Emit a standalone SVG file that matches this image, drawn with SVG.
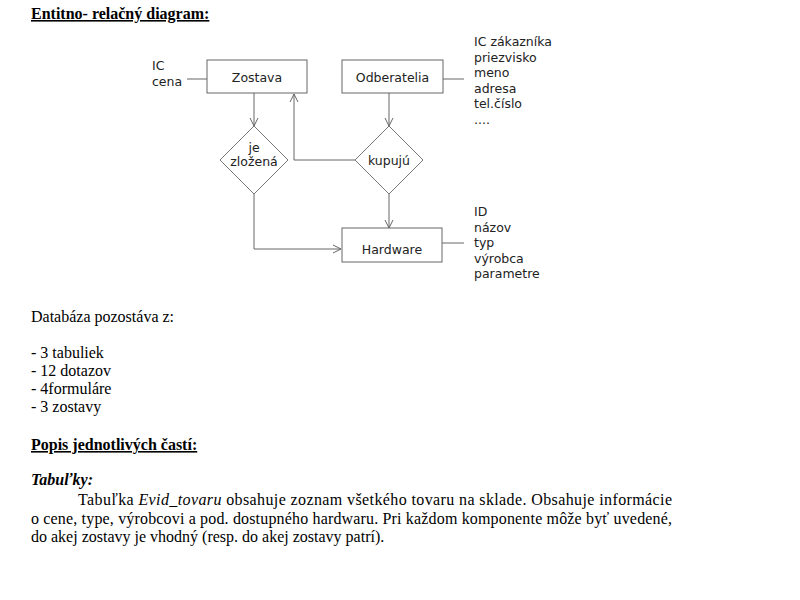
<svg xmlns="http://www.w3.org/2000/svg" width="800" height="600" viewBox="0 0 800 600">
<style>
.bg{fill:#fff}
.ent{fill:#fff;stroke:#666;stroke-width:1}
.rel{fill:#fff;stroke:#777;stroke-width:1}
.lbl{font-family:"DejaVu Sans",sans-serif;font-size:12.5px;fill:#222;text-anchor:middle}
.attr{font-family:"DejaVu Sans",sans-serif;font-size:12.5px;fill:#222}
.con{fill:none;stroke:#666;stroke-width:1}
.body{font-family:"Liberation Serif",serif;font-size:16px;fill:#000}
.hd{font-family:"Liberation Serif",serif;font-size:16px;font-weight:bold;fill:#000;text-decoration:underline}
</style>
<defs>
<marker id="arr" markerWidth="10" markerHeight="10" refX="9" refY="5" orient="auto" markerUnits="userSpaceOnUse">
<path d="M1,1 L9,5 L1,9" fill="none" stroke="#666" stroke-width="1"/>
</marker>
</defs>
<rect class="bg" x="0" y="0" width="800" height="600"/>
<text class="hd" x="31" y="19">Entitno- relačný diagram:</text>

<g id="connectors">
<line class="con" x1="187" y1="79" x2="207" y2="79"/>
<line class="con" x1="443" y1="79" x2="464" y2="79"/>
<line class="con" x1="442" y1="243" x2="464" y2="243"/>
<line class="con" x1="254" y1="93" x2="254" y2="126" marker-end="url(#arr)"/>
<line class="con" x1="389" y1="93" x2="389" y2="126" marker-end="url(#arr)"/>
<polyline class="con" points="355,160 294,160 294,94" marker-end="url(#arr)"/>
<line class="con" x1="389" y1="194" x2="389" y2="228" marker-end="url(#arr)"/>
<polyline class="con" points="254,194 254,249 341,249" marker-end="url(#arr)"/>
</g>

<g id="zostava">
<rect class="ent" x="207" y="60" width="100" height="33"/>
<text class="lbl" x="257" y="81.5">Zostava</text>
<text class="attr" x="152" y="70">IC</text>
<text class="attr" x="152" y="86">cena</text>
</g>
<g id="odberatelia">
<rect class="ent" x="342" y="60" width="101" height="33"/>
<text class="lbl" x="392.5" y="81.5">Odberatelia</text>
<text class="attr" x="474" y="46">IC zákazníka</text>
<text class="attr" x="474" y="61.5">priezvisko</text>
<text class="attr" x="474" y="77">meno</text>
<text class="attr" x="474" y="92.5">adresa</text>
<text class="attr" x="474" y="108">tel.číslo</text>
<text class="attr" x="474" y="123.5">....</text>
</g>
<g id="je-zlozena">
<polygon class="rel" points="254,126 288,160 254,194 220,160"/>
<text class="lbl" x="254" y="151.5" font-size="12px">je</text>
<text class="lbl" x="254" y="166" font-size="12px">zložená</text>
</g>
<g id="kupuju">
<polygon class="rel" points="389,126 423,160 389,194 355,160"/>
<text class="lbl" x="389" y="164.5">kupujú</text>
</g>
<g id="hardware">
<rect class="ent" x="342" y="228" width="100" height="34"/>
<text class="lbl" x="392" y="253.5">Hardware</text>
<text class="attr" x="474" y="216">ID</text>
<text class="attr" x="474" y="231.5">názov</text>
<text class="attr" x="474" y="247">typ</text>
<text class="attr" x="474" y="262.5">výrobca</text>
<text class="attr" x="474" y="278">parametre</text>
</g>

<text class="body" x="31" y="322">Databáza pozostáva z:</text>
<text class="body" x="31" y="358">- 3 tabuliek</text>
<text class="body" x="31" y="376">- 12 dotazov</text>
<text class="body" x="31" y="394">- 4formuláre</text>
<text class="body" x="31" y="412">- 3 zostavy</text>
<text class="hd" x="31" y="450">Popis jednotlivých  častí:</text>
<text class="body" x="31" y="485" font-weight="bold" font-style="italic">Tabuľky:</text>
<text class="body" x="78" y="505" textLength="594" lengthAdjust="spacing">Tabuľka <tspan font-style="italic">Evid_tovaru</tspan> obsahuje zoznam všetkého tovaru na sklade. Obsahuje informácie</text>
<text class="body" x="31" y="523.5" textLength="641" lengthAdjust="spacing">o cene, type, výrobcovi a pod. dostupného hardwaru. Pri každom komponente môže byť uvedené,</text>
<text class="body" x="31" y="542">do akej zostavy je vhodný (resp. do akej zostavy patrí).</text>
</svg>
